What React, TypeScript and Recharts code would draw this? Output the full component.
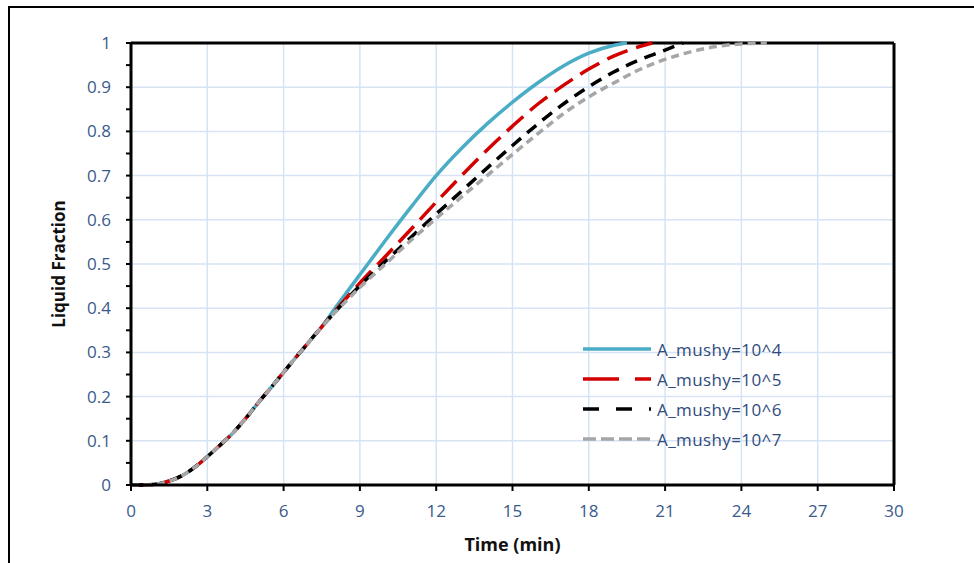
import { LineChart, Line, XAxis, YAxis, CartesianGrid, ReferenceLine } from 'recharts';

// shared start of all four curves (they overlap up to ~7.5 min)
const earlyTime = [0, 0.5, 1, 1.5, 2, 2.5, 3, 3.5, 4, 4.5, 5, 5.5, 6, 6.5, 7, 7.5];
const earlyFrac = [0, 0, 0.002, 0.009, 0.021, 0.04, 0.064, 0.09, 0.117, 0.15, 0.186, 0.22, 0.255, 0.29, 0.324, 0.358];

const blueTime = [8, 9, 10, 11, 12, 13, 14, 15, 16, 17, 18, 19, 19.5];
const blueFrac = [0.398, 0.476, 0.553, 0.628, 0.7, 0.762, 0.817, 0.866, 0.91, 0.948, 0.977, 0.995, 1];

const redTime = [8, 9, 10, 11, 12, 13, 14, 15, 16, 17, 18, 19, 20, 20.5];
const redFrac = [0.392, 0.457, 0.517, 0.578, 0.64, 0.7, 0.758, 0.812, 0.862, 0.904, 0.941, 0.971, 0.992, 1];

const blackTime = [8, 9, 10, 11, 12, 13, 14, 15, 16, 17, 18, 19, 20, 21, 21.7];
const blackFrac = [0.39, 0.451, 0.506, 0.56, 0.613, 0.665, 0.717, 0.768, 0.817, 0.862, 0.901, 0.935, 0.962, 0.984, 1];

const grayTime = [8, 9, 10, 11, 12, 13, 14, 15, 16, 17, 18, 19, 20, 21, 22, 23, 24, 25];
const grayFrac = [0.389, 0.447, 0.5, 0.553, 0.603, 0.652, 0.7, 0.748, 0.795, 0.84, 0.878, 0.91, 0.94, 0.963, 0.98, 0.992, 0.998, 1];

const xTicks = [0, 3, 6, 9, 12, 15, 18, 21, 24, 27, 30];
const yTicks = [0, 0.05, 0.1, 0.15, 0.2, 0.25, 0.3, 0.35, 0.4, 0.45, 0.5, 0.55, 0.6, 0.65, 0.7, 0.75, 0.8, 0.85, 0.9, 0.95, 1];
const yMajor = [0, 0.1, 0.2, 0.3, 0.4, 0.5, 0.6, 0.7, 0.8, 0.9, 1];

const SERIES = [
  { name: 'A_mushy=10^4', time: blueTime, frac: blueFrac, color: '#4BACC6', dash: undefined, legendDash: undefined },
  { name: 'A_mushy=10^5', time: redTime, frac: redFrac, color: '#D40000', dash: '22 9', legendDash: '36 16' },
  { name: 'A_mushy=10^6', time: blackTime, frac: blackFrac, color: '#000000', dash: '12 8', legendDash: '16 17' },
  { name: 'A_mushy=10^7', time: grayTime, frac: grayFrac, color: '#A6A6A6', dash: '8 5', legendDash: '13 5' },
];

const build = (time: number[], frac: number[]) => [
  ...earlyTime.map((t, i) => ({ t, f: earlyFrac[i] })),
  ...time.map((t, i) => ({ t, f: frac[i] })),
];

const TICK_COLOR = '#3A5A8C';
const FONT = '"Open Sans", sans-serif';

const fmtY = (v: number) => {
  const k = Math.round(v * 100);
  if (k % 10 !== 0) return '';
  if (k === 0) return '0';
  if (k === 100) return '1';
  return (k / 100).toFixed(1);
};

export default function App() {
  return (
    <div style={{ position: 'absolute', left: 0, top: 0, width: 974, height: 563, background: '#fff', overflow: 'hidden' }}>
      {/* outer figure frame */}
      <div style={{ position: 'absolute', left: 8, top: 6, width: 1000, height: 600, borderLeft: '2.5px solid #000', borderTop: '2.5px solid #000' }} />

      <div style={{ position: 'absolute', left: 0, top: 0 }}>
        <LineChart width={974} height={563} margin={{ top: 43, right: 80, left: 61, bottom: 38 }}>
          <CartesianGrid stroke="#D6E3F5" strokeWidth={1.5} horizontalValues={yMajor} verticalValues={xTicks} />
          <XAxis
            dataKey="t"
            type="number"
            domain={[0, 30]}
            ticks={xTicks}
            height={40}
            allowDuplicatedCategory={false}
            axisLine={{ stroke: '#000', strokeWidth: 3 }}
            tickLine={{ stroke: '#000', strokeWidth: 2 }}
            tickSize={6}
            tickMargin={14}
            tick={{ fill: TICK_COLOR, fontSize: 17, fontFamily: FONT }}
            label={{ value: 'Time (min)', position: 'insideBottom', offset: -26, fill: '#111', fontSize: 18, fontWeight: 700, fontFamily: FONT }}
          />
          <YAxis
            type="number"
            domain={[0, 1]}
            ticks={yTicks}
            width={70}
            interval={0}
            tickFormatter={fmtY}
            axisLine={{ stroke: '#000', strokeWidth: 3 }}
            tickLine={{ stroke: '#000', strokeWidth: 2 }}
            tickSize={5}
            tickMargin={15}
            tick={{ fill: TICK_COLOR, fontSize: 17, fontFamily: FONT }}
            label={{ value: 'Liquid Fraction', angle: -90, position: 'insideLeft', offset: -2, fill: '#111', fontSize: 17, fontWeight: 700, fontFamily: FONT, style: { textAnchor: 'middle' } }}
          />
          <ReferenceLine y={1} stroke="#000" strokeWidth={3} />
          <ReferenceLine x={30} stroke="#000" strokeWidth={3} />
          {SERIES.map((s) => (
            <Line
              key={s.name}
              data={build(s.time, s.frac)}
              dataKey="f"
              name={s.name}
              type="monotone"
              stroke={s.color}
              strokeWidth={3.5}
              strokeDasharray={s.dash}
              dot={false}
              activeDot={false}
              isAnimationActive={false}
            />
          ))}
        </LineChart>
      </div>

      {/* legend */}
      <div style={{ position: 'absolute', left: 581, top: 334, fontFamily: FONT, fontSize: 17, color: '#2F4B7C', letterSpacing: 0.4 }}>
        {SERIES.map((s) => (
          <div key={s.name} style={{ display: 'flex', alignItems: 'center', height: 30 }}>
            <svg width={72} height={10} style={{ marginRight: 4 }}>
              <line x1={2} y1={5} x2={70} y2={5} stroke={s.color} strokeWidth={3.5} strokeDasharray={s.legendDash} />
            </svg>
            <span>{s.name}</span>
          </div>
        ))}
      </div>
    </div>
  );
}
